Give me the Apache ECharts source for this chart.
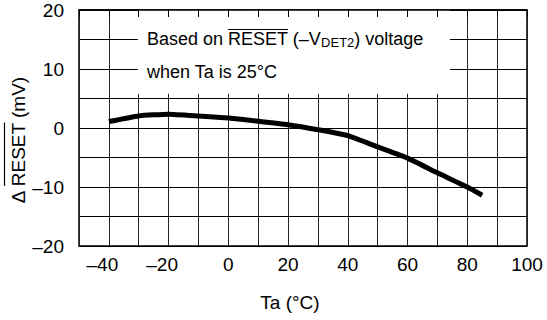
<!DOCTYPE html>
<html>
<head>
<meta charset="utf-8">
<script src="https://cdn.jsdelivr.net/npm/echarts@6/dist/echarts.min.js"></script>
<style>
  html, body { margin: 0; padding: 0; background: #fff; }
  #chart { width: 547px; height: 320px; }
</style>
</head>
<body>
<div id="chart"></div>
<script>
// Ta (°C) on x, ΔRESET (mV) on y
const temps = [-40, -30, -20, -10, 0, 10, 20, 30, 40, 50, 60, 70, 80, 85]
const deltaReset = [1.1, 2.05, 2.35, 2.05, 1.7, 1.15, 0.55, -0.3, -1.3, -3.2, -5.1, -7.6, -10.0, -11.4]
const xTicks = [-40, -20, 0, 20, 40, 60, 80, 100] // labelled x ticks
const yTicks = [-20, -10, 0, 10, 20] // labelled y ticks

const FONT = '"Liberation Sans", Arial, Helvetica, sans-serif'
const ctx = document.createElement('canvas').getContext('2d')
function textW (str, size) {
  ctx.font = size + 'px ' + FONT
  return ctx.measureText(str).width
}
function fmt (v) {
  return v < 0 ? '\u2013' + Math.abs(v) : String(v)
}

const chart = echarts.init(document.getElementById('chart'), null, { renderer: 'svg' })

// overline positions for the RESET words
const yTitle = '\u0394 RESET (mV)'
const yTitleW = textW(yTitle, 19)
const yResetStart = -yTitleW / 2 + textW('\u0394 ', 19)
const yResetEnd = yResetStart + textW('RESET', 19)
const boxX = 147
const bResetStart = boxX + textW('Based on ', 18)
const bResetEnd = bResetStart + textW('RESET', 18)

const option = {
  animation: false,
  backgroundColor: '#fff',
  textStyle: { fontFamily: FONT },
  grid: {
    left: 79,
    right: 20,
    top: 10,
    bottom: 74,
    show: true,
    borderColor: '#000',
    borderWidth: 1.5
  },
  xAxis: [
    {
      type: 'value',
      min: -50,
      max: 100,
      interval: 10,
      z: 0,
      name: 'Ta (\u00B0C)',
      nameLocation: 'middle',
      nameGap: 47,
      nameTextStyle: { color: '#000', fontSize: 19, padding: [0, 26, 0, 0] },
      axisLine: { show: false },
      axisTick: { show: false },
      axisLabel: {
        color: '#000',
        fontSize: 19,
        margin: 9,
        formatter: v => xTicks.indexOf(v) >= 0 ? (v < 0 ? '{neg|' + fmt(v) + '}' : fmt(v)) : '',
        rich: { neg: { fontSize: 19, color: '#000', padding: [0, 13, 0, 0] } }
      },
      splitLine: { show: true, lineStyle: { color: '#222', width: 1 } }
    },
    {
      // top edge with the short inner ticks that show above the note box
      type: 'value',
      position: 'top',
      min: -50,
      max: 100,
      interval: 10,
      z: 5,
      axisLine: { show: true, lineStyle: { color: '#000', width: 1.5 } },
      axisTick: { show: true, inside: true, length: 7, lineStyle: { color: '#000', width: 1 } },
      axisLabel: { show: false },
      splitLine: { show: false }
    }
  ],
  yAxis: {
    type: 'value',
    min: -20,
    max: 20,
    interval: 5,
    axisLine: { show: false },
    axisTick: { show: false },
    axisLabel: {
      color: '#000',
      fontSize: 19,
      margin: 15,
      formatter: v => yTicks.indexOf(v) >= 0 ? fmt(v) : ''
    },
    splitLine: { show: true, lineStyle: { color: '#000', width: 1 } }
  },
  series: [
    {
      type: 'line',
      data: temps.map((t, i) => [t, deltaReset[i]]),
      symbol: 'none',
      smooth: 0.15,
      lineStyle: { color: '#000', width: 5, cap: 'butt', join: 'round' },
      markArea: {
        silent: true,
        label: { show: false },
        itemStyle: { color: '#fff' },
        data: [[{ xAxis: -30.3, yAxis: 20 }, { xAxis: 74.2, yAxis: 5.8 }]]
      }
    }
  ],
  graphic: [
    {
      type: 'text',
      x: boxX,
      y: 39,
      z: 10,
      style: {
        text: '{n|Based on RESET (\u2013V}{s|DET2}{n|) voltage}',
        align: 'left',
        verticalAlign: 'middle',
        rich: {
          n: { fontSize: 18, fontFamily: FONT, fill: '#000' },
          s: { fontSize: 13, fontFamily: FONT, fill: '#000', padding: [6, 0, 0, 0] }
        }
      }
    },
    {
      type: 'line',
      z: 10,
      shape: { x1: bResetStart, y1: 29.5, x2: bResetEnd, y2: 29.5 },
      style: { stroke: '#000', lineWidth: 1.2 }
    },
    {
      type: 'text',
      x: boxX,
      y: 72,
      z: 10,
      style: {
        text: 'when Ta is 25\u00B0C',
        font: '18px ' + FONT,
        fill: '#000',
        align: 'left',
        verticalAlign: 'middle'
      }
    },
    {
      type: 'group',
      x: 18,
      y: 140,
      rotation: Math.PI / 2,
      children: [
        {
          type: 'text',
          style: {
            text: yTitle,
            font: '19px ' + FONT,
            fill: '#000',
            align: 'center',
            verticalAlign: 'middle'
          }
        },
        {
          type: 'line',
          shape: { x1: yResetStart, y1: -13.5, x2: yResetEnd, y2: -13.5 },
          style: { stroke: '#000', lineWidth: 1.2 }
        }
      ]
    }
  ]
}

chart.setOption(option)
</script>
</body>
</html>
